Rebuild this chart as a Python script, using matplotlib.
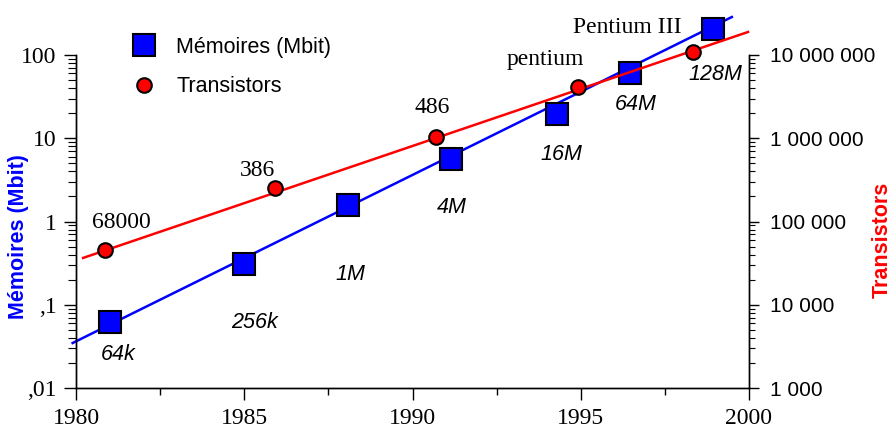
import matplotlib
matplotlib.use("Agg")
import matplotlib.pyplot as plt
from matplotlib.lines import Line2D
from matplotlib.ticker import FixedLocator, FixedFormatter, LogLocator, NullFormatter, MultipleLocator

# ---------------- data ----------------
mem_years = [1981.0, 1985.0, 1988.07, 1991.15, 1994.3, 1996.45, 1998.93]
mem_values = [0.062, 0.31, 1.6, 5.6, 19.5, 61, 205]          # Mbit
mem_labels = ["64k", "256k", "1M", "4M", "16M", "64M", "128M"]

tr_years = [1980.86, 1985.91, 1990.70, 1994.92, 1998.34]
tr_values = [45500, 252000, 1035000, 4130000, 10860000]      # transistors
tr_labels = ["68000", "386", "486", "pentium", "Pentium III"]

mem_trend_years = [1979.9, 1999.49]
mem_trend_values = [0.0347, 286]
tr_trend_years = [1980.21, 1999.97]
tr_trend_values = [36500, 18900000]

x_ticks = [1980, 1985, 1990, 1995, 2000]
left_ticks = [0.01, 0.1, 1, 10, 100]
left_tick_labels = [",01", ",1", "1", "10", "100"]
right_ticks = [1e3, 1e4, 1e5, 1e6, 1e7]
right_tick_labels = ["1 000", "10 000", "100 000", "1 000 000", "10 000 000"]

# label offsets (pixels, relative to the point)
mem_label_offsets = [(9, -38), (10, -64), (3, -75), (1, -54), (4, -46), (6, -37), (2, -51)]
tr_label_offsets = [(16, 22), (-17, 12), (-4, 24), (-33, 22), (-66, 19)]

SERIF = "Liberation Serif"
SANS = "Liberation Sans"

fig = plt.figure(figsize=(8.92, 4.32), dpi=100)
W, H = 892, 432
ax = fig.add_axes([76 / W, (H - 388) / H, (749 - 76) / W, (388 - 55) / H])
ax.set_xlim(1980, 2000)
ax.set_yscale("log")
ax.set_ylim(0.01, 100)
ax2 = ax.twinx()
ax2.set_yscale("log")
ax2.set_ylim(1e3, 1e7)

for a in (ax, ax2):
    a.spines["top"].set_visible(False)
    for s in a.spines.values():
        s.set_linewidth(1.0)
    a.patch.set_visible(False)

# x axis
ax.xaxis.set_major_locator(FixedLocator(x_ticks))
ax.xaxis.set_minor_locator(MultipleLocator(2.5))
ax.tick_params(axis="x", which="major", direction="out", length=8.5, width=1, pad=6,
               labelsize=17)
ax.tick_params(axis="x", which="minor", direction="out", length=5, width=1)
for lab in ax.get_xticklabels():
    lab.set_family(SERIF)

# left axis
ax.yaxis.set_major_locator(FixedLocator(left_ticks))
ax.yaxis.set_major_formatter(FixedFormatter(left_tick_labels))
ax.yaxis.set_minor_locator(LogLocator(base=10, subs=range(2, 10)))
ax.yaxis.set_minor_formatter(NullFormatter())
ax.tick_params(axis="y", which="major", direction="out", length=9, width=1, pad=5,
               labelsize=17)
ax.tick_params(axis="y", which="minor", direction="out", length=6, width=0.8)
for lab in ax.get_yticklabels():
    lab.set_family(SERIF)

# right axis
ax2.yaxis.set_major_locator(FixedLocator(right_ticks))
ax2.yaxis.set_major_formatter(FixedFormatter(right_tick_labels))
ax2.yaxis.set_minor_locator(LogLocator(base=10, subs=range(2, 10)))
ax2.yaxis.set_minor_formatter(NullFormatter())
ax2.tick_params(axis="y", which="major", direction="out", length=7, width=1, pad=8,
                labelsize=15)
ax2.tick_params(axis="y", which="minor", direction="out", length=4.5, width=0.8)
for lab in ax2.get_yticklabels():
    lab.set_family(SANS)

# trend lines
ax.plot(mem_trend_years, mem_trend_values, color="#0000ff", lw=1.8, clip_on=False, zorder=2)
ax2.plot(tr_trend_years, tr_trend_values, color="#ff0000", lw=1.8, clip_on=False, zorder=2)

# markers
ax.plot(mem_years, mem_values, linestyle="none", marker="s", ms=16, mfc="#0000ff",
        mec="black", mew=1.5, clip_on=False, zorder=3)
ax2.plot(tr_years, tr_values, linestyle="none", marker="o", ms=10.5, mfc="#ff0000",
         mec="black", mew=1.5, clip_on=False, zorder=4)

# labels
for yr, v, lab, off in zip(mem_years, mem_values, mem_labels, mem_label_offsets):
    ax.annotate(lab, xy=(yr, v), xytext=off, textcoords="offset pixels",
                ha="center", va="baseline", fontsize=15.5, style="italic",
                family=SANS, annotation_clip=False)
for yr, v, lab, off in zip(tr_years, tr_values, tr_labels, tr_label_offsets):
    ax2.annotate(lab, xy=(yr, v), xytext=off, textcoords="offset pixels",
                 ha="center", va="baseline", fontsize=17, family=SERIF,
                 annotation_clip=False)

# axis titles
fig.text(19 / W, 1 - 237 / H, "Mémoires (Mbit)", rotation=90, ha="center", va="center",
         color="#0000ff", fontsize=15.5, fontweight="bold", family=SANS)
fig.text(882 / W, 1 - 240 / H, "Transistors", rotation=90, ha="center", va="center",
         color="#ff0000", fontsize=15.5, fontweight="bold", family=SANS)

# legend
handles = [
    Line2D([], [], linestyle="none", marker="s", ms=16, mfc="#0000ff", mec="black", mew=1.5),
    Line2D([], [], linestyle="none", marker="o", ms=10.5, mfc="#ff0000", mec="black", mew=1.5),
]
leg = ax2.legend(handles, ["Mémoires (Mbit)", "Transistors"], loc="upper left",
                 bbox_to_anchor=(133 / W, 1 - 37 / H), bbox_transform=fig.transFigure,
                 frameon=False, prop={"family": SANS, "size": 15.5},
                 handlelength=1.0, handletextpad=1.0, labelspacing=0.85,
                 borderaxespad=0, borderpad=0)

fig.savefig("out.png", dpi=100)
